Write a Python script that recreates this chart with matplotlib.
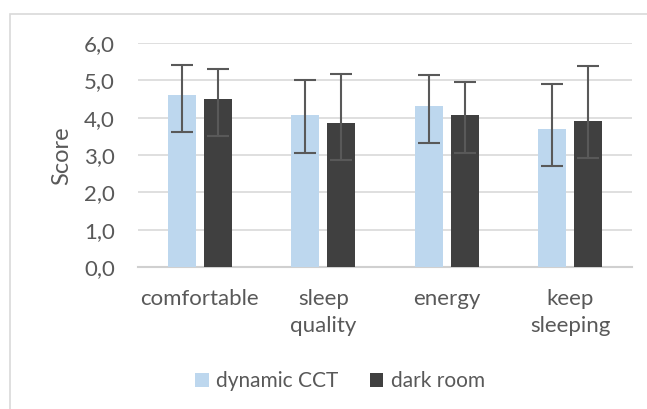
import matplotlib
matplotlib.use("Agg")
import matplotlib.pyplot as plt
from matplotlib.patches import Rectangle
import numpy as np

categories = ["comfortable", "sleep\nquality", "energy", "keep\nsleeping"]
series_names = ["dynamic CCT", "dark room"]
dynamic_cct = [4.60, 4.06, 4.31, 3.70]
dark_room = [4.49, 3.85, 4.06, 3.92]
dynamic_err_low = [0.99, 1.00, 1.00, 0.99]
dynamic_err_high = [0.82, 0.94, 0.82, 1.21]
dark_err_low = [0.99, 0.99, 1.00, 1.00]
dark_err_high = [0.82, 1.33, 0.90, 1.46]
yticks = [0, 1, 2, 3, 4, 5, 6]
ytick_labels = ["0,0", "1,0", "2,0", "3,0", "4,0", "5,0", "6,0"]

plt.rcParams['font.family'] = ['Lato', 'DejaVu Sans']
W, H = 647, 409
fig = plt.figure(figsize=(W / 100, H / 100), dpi=100)

# outer frame
fig.patches.append(Rectangle((10 / W, -0.1), 1.2, 1 - 14 / H + 0.1, transform=fig.transFigure,
                             fill=False, edgecolor="#d9d9d9", linewidth=1.2))

ax = fig.add_axes([138 / W, 1 - 267 / H, (632 - 138) / W, (267 - 43) / H])
x = np.arange(len(categories))
bw = 0.227
gap = 0.065
off = (bw + gap) / 2
ecol = "#595959"
ax.bar(x - off, dynamic_cct, bw, color="#bdd7ee", label=series_names[0], zorder=3,
       yerr=[dynamic_err_low, dynamic_err_high], ecolor=ecol,
       error_kw=dict(elinewidth=1.5, capsize=8, capthick=1.5, zorder=4))
ax.bar(x + off, dark_room, bw, color="#404040", label=series_names[1], zorder=3,
       yerr=[dark_err_low, dark_err_high], ecolor=ecol,
       error_kw=dict(elinewidth=1.5, capsize=8, capthick=1.5, zorder=4))

ax.set_xlim(-0.5, len(categories) - 0.5)
ax.set_ylim(0, 6)
ax.set_yticks(yticks)
ax.set_yticklabels(ytick_labels)
ax.set_xticks(x)
ax.set_xticklabels(categories, linespacing=1.4)
ax.grid(axis="y", color="#d9d9d9", linewidth=1.2, zorder=0)
for s in ["top", "right", "left"]:
    ax.spines[s].set_visible(False)
ax.spines["bottom"].set_color("#d0d0d0")
ax.spines["bottom"].set_linewidth(1.5)
ax.tick_params(axis="both", length=0, labelsize=16, labelcolor="#595959")
ax.tick_params(axis="x", pad=16)
ax.tick_params(axis="y", pad=16.5)

fig.text(62 / W, 1 - 156 / H, "Score", rotation=90, ha="center", va="center",
         fontsize=17, color="#595959")

handles, labels = ax.get_legend_handles_labels()
leg = fig.legend(handles, labels, loc="center", bbox_to_anchor=(340 / W, 1 - 381 / H), ncol=2,
                 frameon=False, fontsize=15, handlelength=0.65, handleheight=0.65,
                 handletextpad=0.35, columnspacing=1.5)
for t in leg.get_texts():
    t.set_color("#595959")

fig.savefig("out.png", dpi=100)
